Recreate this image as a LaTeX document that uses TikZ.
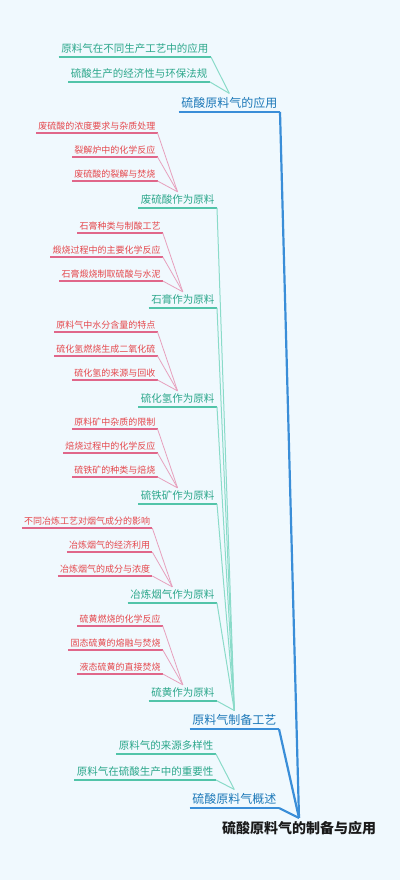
\documentclass[tikz,border=0pt]{standalone}
\usepackage{fontspec}
\setmainfont{Noto Sans CJK SC}
\usetikzlibrary{positioning, calc}
\definecolor{fondo}{HTML}{F0F9FE}
\definecolor{negro}{HTML}{1A1A1A}
\definecolor{azul}{HTML}{1C78B8}
\definecolor{azullinea}{HTML}{3A8ED8}
\definecolor{verde}{HTML}{2CA78B}
\definecolor{verdelinea}{HTML}{52C4A9}
\definecolor{verdeclaro}{HTML}{8ADBC9}
\definecolor{rojo}{HTML}{E5484D}
\definecolor{rosa}{HTML}{E0678A}
\definecolor{rosaclaro}{HTML}{E7A0BD}
\tikzset{
    subrayado/.style={append after command={(\tikzlastnode.south west) edge[#1] (\tikzlastnode.south east)}},
    raiz/.style={font=\fontsize{14}{16}\selectfont\bfseries, text=negro, inner sep=3pt},
    rama/.style={anchor=south east, font=\fontsize{12}{14}\selectfont, text=azul,
        inner xsep=2.5pt, inner ysep=3.5pt, subrayado={draw=azullinea, line width=1.5pt}},
    subrama/.style={anchor=south east, font=\fontsize{10.5}{12}\selectfont, text=verde,
        inner xsep=2.5pt, inner ysep=3pt, subrayado={draw=verdelinea, line width=1.4pt}},
    hoja/.style={anchor=south east, font=\fontsize{9}{10}\selectfont, text=rojo,
        inner xsep=2pt, inner ysep=2.5pt, subrayado={draw=rosa, line width=1.1pt}},
    enlace rama/.style={draw=azullinea, line width=2.2pt},
    enlace sub/.style={draw=verdeclaro, line width=1pt},
    enlace hoja/.style={draw=rosaclaro, line width=0.8pt}}

\begin{document}
\begin{tikzpicture}[x=1pt, y=-1pt]
    \fill[fondo] (0,0) rectangle (400,880);
    \useasboundingbox (0,0) rectangle (400,880);
    % Raiz
    \node[raiz] (raiz) at (299,828) {硫酸原料气的制备与应用};
    % Ramas principales
    \node[rama] (uso) at (280,112) {硫酸原料气的应用};
    \node[rama] (prep) at (279,729) {原料气制备工艺};
    \node[rama] (resumen) at (279,808) {硫酸原料气概述};
    % Subramas de la aplicacion
    \node[subrama] (uso1) at (211,57) {原料气在不同生产工艺中的应用};
    \node[subrama] (uso2) at (210,82) {硫酸生产的经济性与环保法规};
    % Subramas del resumen
    \node[subrama] (res1) at (216,754) {原料气的来源多样性};
    \node[subrama] (res2) at (216,780) {原料气在硫酸生产中的重要性};
    % Subramas de la preparacion
    \foreach \y/\nombre/\texto in {208/fs/废硫酸作为原料, 308/yeso/石膏作为原料,
        407/hs/硫化氢作为原料, 504/pirita/硫铁矿作为原料,
        603/humo/冶炼烟气作为原料, 701/azufre/硫黄作为原料}
        \node[subrama] (\nombre) at (217,\y) {\texto};
    % Hojas
    \foreach \p/\a/\b/\c in {fs/废硫酸的浓度要求与杂质处理/裂解炉中的化学反应/废硫酸的裂解与焚烧,
        yeso/石膏种类与制酸工艺/煅烧过程中的主要化学反应/石膏煅烧制取硫酸与水泥,
        hs/原料气中水分含量的特点/硫化氢燃烧生成二氧化硫/硫化氢的来源与回收,
        pirita/原料矿中杂质的限制/焙烧过程中的化学反应/硫铁矿的种类与焙烧,
        humo/不同冶炼工艺对烟气成分的影响/冶炼烟气的经济利用/冶炼烟气的成分与浓度,
        azufre/硫黄燃烧的化学反应/固态硫黄的熔融与焚烧/液态硫黄的直接焚烧}{
        \node[hoja] (\p1) at ($(\p.south)+(-20,-75)$) {\a};
        \node[hoja] (\p2) at ($(\p.south)+(-20,-51)$) {\b};
        \node[hoja] (\p3) at ($(\p.south)+(-20,-27)$) {\c};
        \foreach \i in {1,2,3}
            \draw[enlace hoja] (\p\i.south east) -- (\p.north);
    }
    % Conexiones
    \foreach \n in {fs, yeso, hs, pirita, humo, azufre}
        \draw[enlace sub] (\n.south east) -- (prep.north);
    \foreach \n in {uso1, uso2}
        \draw[enlace sub] (\n.south east) -- (uso.north);
    \foreach \n in {res1, res2}
        \draw[enlace sub] (\n.south east) -- (resumen.north);
    \foreach \n in {uso, prep, resumen}
        \draw[enlace rama] (\n.south east) -- (raiz.north);
\end{tikzpicture}
\end{document}
